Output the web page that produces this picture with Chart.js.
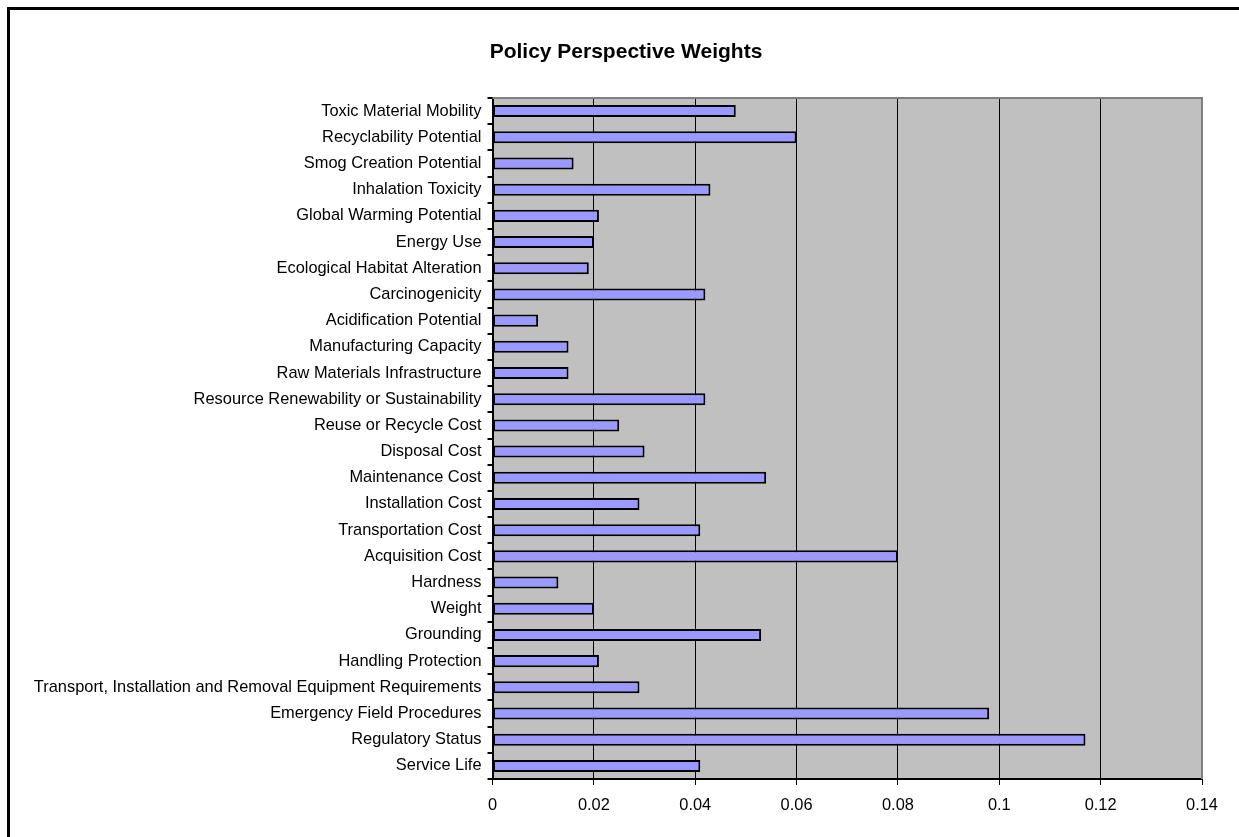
<!DOCTYPE html>
<html>
<head>
<meta charset="utf-8">
<script src="https://cdn.jsdelivr.net/npm/chart.js@4/dist/chart.umd.min.js"></script>
<style>
  html, body { margin: 0; padding: 0; background: #fff; }
  #frame { position: absolute; left: 7px; top: 7px; width: 1300px; height: 900px;
           border-left: 3px solid #000; border-top: 3px solid #000; }
  #wrap { position: absolute; left: 0; top: 0; width: 1239px; height: 837px; }
</style>
</head>
<body>
<div id="frame"></div>
<div id="wrap"><canvas id="myChart" width="1239" height="837"></canvas></div>
<script>
var categories = [
  'Toxic Material Mobility',
  'Recyclability Potential',
  'Smog Creation Potential',
  'Inhalation Toxicity',
  'Global Warming Potential',
  'Energy Use',
  'Ecological Habitat Alteration',
  'Carcinogenicity',
  'Acidification Potential',
  'Manufacturing Capacity',
  'Raw Materials Infrastructure',
  'Resource Renewability or Sustainability',
  'Reuse or Recycle Cost',
  'Disposal Cost',
  'Maintenance Cost',
  'Installation Cost',
  'Transportation Cost',
  'Acquisition Cost',
  'Hardness',
  'Weight',
  'Grounding',
  'Handling Protection',
  'Transport, Installation and Removal Equipment Requirements',
  'Emergency Field Procedures',
  'Regulatory Status',
  'Service Life'
];
var weights = [
  0.048, 0.060, 0.016, 0.043, 0.021, 0.020, 0.019, 0.042, 0.009,
  0.015, 0.015, 0.042, 0.025, 0.030, 0.054, 0.029, 0.041, 0.080,
  0.013, 0.020, 0.053, 0.021, 0.029, 0.098, 0.117, 0.041
];
var chartTitle = 'Policy Perspective Weights';
var xMin = 0, xMax = 0.14, xStep = 0.02;

// gray plot background, gray top/right edge and the title
var plotArea = {
  id: 'plotArea',
  beforeDraw: function (chart) {
    var a = chart.chartArea, c = chart.ctx;
    c.save();
    c.fillStyle = '#c0c0c0';
    c.fillRect(a.left, a.top, a.right - a.left, a.bottom - a.top);
    c.restore();
  },
  afterDraw: function (chart) {
    var a = chart.chartArea, c = chart.ctx;
    c.save();
    c.strokeStyle = '#808080';
    c.lineWidth = 2;
    c.beginPath();
    c.moveTo(a.left, a.top);
    c.lineTo(a.right, a.top);
    c.lineTo(a.right, a.bottom);
    c.stroke();
    c.fillStyle = '#000';
    c.font = 'bold 21px "Liberation Sans", Arial, sans-serif';
    c.textAlign = 'center';
    c.textBaseline = 'middle';
    c.fillText(chartTitle, 626, 52);
    c.restore();
  }
};

Chart.defaults.font.family = '"Liberation Sans", Arial, sans-serif';
Chart.defaults.color = '#000';

let chart = document.getElementById('myChart').getContext('2d');
let weightChart = new Chart(chart, {
  type: 'bar',
  data: {
    labels: categories,
    datasets: [{
      label: 'Weight',
      data: weights,
      backgroundColor: '#9999ff',
      borderColor: '#000',
      borderWidth: 2,
      borderSkipped: false,
      barPercentage: 0.46,
      categoryPercentage: 1
    }]
  },
  options: {
    indexAxis: 'y',
    responsive: false,
    animation: false,
    layout: { padding: { left: 0, right: 37, top: 98, bottom: 0 } },
    plugins: {
      legend: { display: false },
      tooltip: { enabled: false },
      title: { display: false }
    },
    scales: {
      x: {
        min: xMin,
        max: xMax,
        afterFit: function (s) { s.height = 58; },
        ticks: {
          stepSize: xStep,
          font: { size: 16.4 },
          padding: 11,
          callback: function (v) { return String(Number(v.toFixed(2))); }
        },
        grid: {
          color: '#000',
          lineWidth: 1,
          tickLength: 6,
          drawOnChartArea: true
        },
        border: { color: '#000', width: 2 }
      },
      y: {
        afterFit: function (s) { s.width = 492.5; },
        ticks: { font: { size: 16.4 }, padding: 6, autoSkip: false },
        grid: {
          offset: true,
          drawOnChartArea: false,
          color: '#000',
          lineWidth: 2,
          tickLength: 5
        },
        border: { color: '#000', width: 2 }
      }
    }
  },
  plugins: [plotArea]
});
</script>
</body>
</html>
